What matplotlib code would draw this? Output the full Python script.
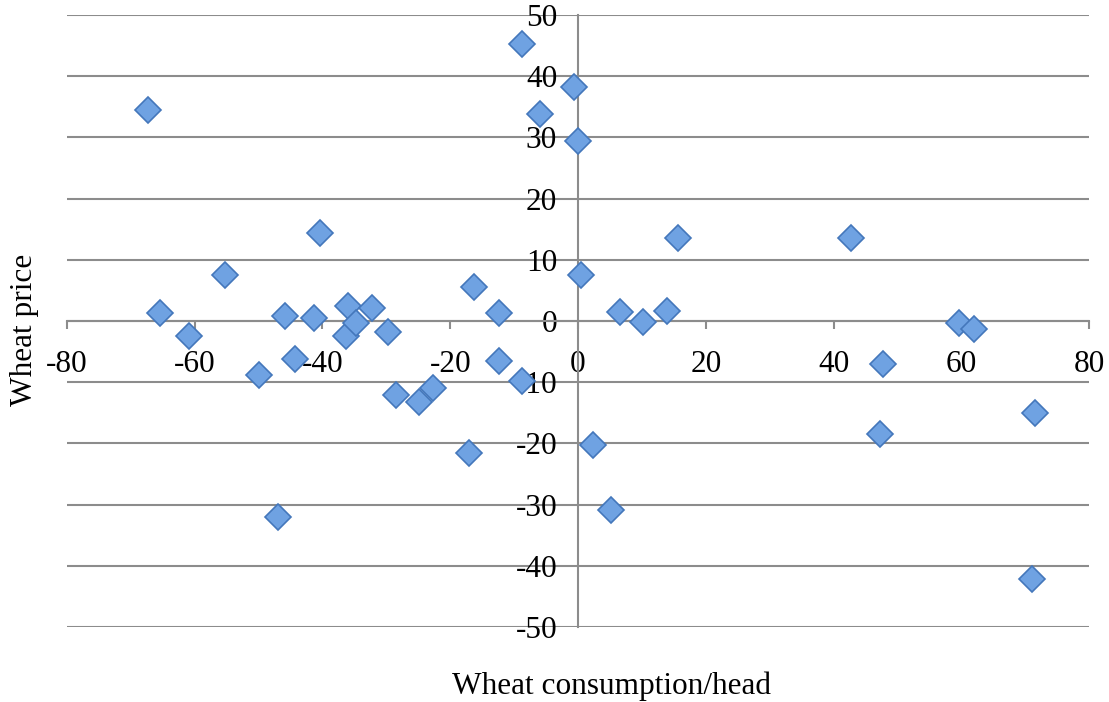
import matplotlib
matplotlib.use("Agg")
import matplotlib.pyplot as plt

# ── Data ─────────────────────────────────────────────────────────────────────
consumption = [-67.3, -65.4, -60.9, -55.2, -49.9, -47.0, -45.8, -44.3, -41.3, -40.4,
               -36.3, -36.0, -34.7, -32.2, -29.7, -28.5, -24.9, -22.7, -17.0, -16.3,
               -12.4, -12.4, -8.8, -8.7, -6.0, -0.7, 0.0, 0.5, 2.4, 5.2,
               6.5, 10.2, 13.9, 15.6, 42.7, 47.3, 47.8, 59.7, 62.0, 71.6, 71.1]
price = [34.5, 1.3, -2.5, 7.6, -8.8, -32.1, 0.9, -6.2, 0.5, 14.4,
         -2.5, 2.4, -0.4, 2.2, -1.8, -12.1, -13.3, -10.9, -21.5, 5.5,
         1.3, -6.5, -9.8, 45.3, 33.9, 38.3, 29.4, 7.6, -20.2, -30.9,
         1.4, -0.2, 1.7, 13.5, 13.6, -18.5, -7.0, -0.4, -1.3, -15.0, -42.2]

x_ticks = [-80, -60, -40, -20, 0, 20, 40, 60, 80]
y_ticks = [-50, -40, -30, -20, -10, 0, 10, 20, 30, 40, 50]

GRID = "#8c8c8c"

plt.rcParams["font.family"] = ["Liberation Serif", "DejaVu Serif"]
plt.rcParams["axes.unicode_minus"] = False   # plain hyphens like the original

fig = plt.figure(figsize=(11.09, 7.02), dpi=100)
ax = fig.add_axes([0.0604, 0.1068, 0.9216, 0.8718])

ax.plot(consumption, price, linestyle="none", marker="D", markersize=13.5,
        markerfacecolor="#6fa2e2", markeredgecolor="#4477bb", markeredgewidth=1.2,
        zorder=3, clip_on=False)

ax.set_xlim(-80, 80)
ax.set_ylim(-50, 50)
ax.set_xticks(x_ticks)
ax.set_yticks(y_ticks)

# axes cross at zero, Excel style
ax.spines["left"].set_position(("data", 0))
ax.spines["bottom"].set_position(("data", 0))
ax.spines["top"].set_visible(False)
ax.spines["right"].set_visible(False)
for s in ("left", "bottom"):
    ax.spines[s].set_color(GRID)
    ax.spines[s].set_linewidth(1.5)

ax.yaxis.grid(True, color=GRID, linewidth=1.5)
ax.set_axisbelow(True)

ax.tick_params(axis="x", direction="out", length=6, width=1.5, color=GRID,
               labelsize=22.5, pad=15)
ax.tick_params(axis="y", length=0, labelsize=22.5, pad=15)

fig.text(0.551, 0.001, "Wheat consumption/head", fontsize=22.5, ha="center", va="bottom")
fig.text(0.022, 0.53, "Wheat price", fontsize=22.5, ha="center", va="center", rotation=90)

fig.savefig("out.png", dpi=100)
